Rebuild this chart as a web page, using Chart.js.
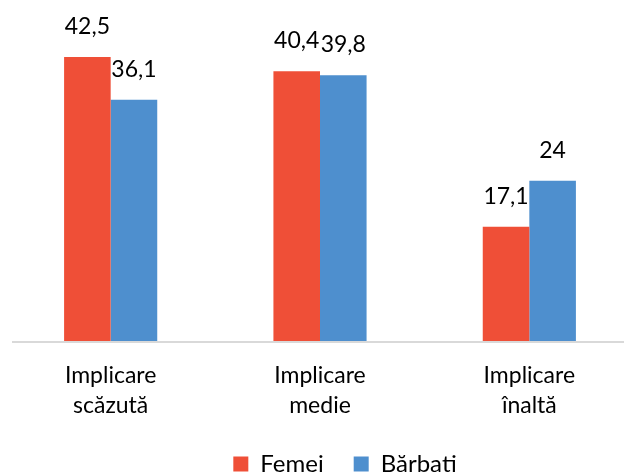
<!DOCTYPE html>
<html>
<head>
<meta charset="utf-8">
<script src="https://cdn.jsdelivr.net/npm/chart.js@4.4.0/dist/chart.umd.min.js"></script>
<style>
  html, body { margin: 0; padding: 0; background: #fff; overflow: hidden; }
  #wrap { width: 640px; height: 486px; position: relative; }
</style>
</head>
<body>
<div id="wrap"><canvas id="myChart"></canvas></div>
<script>
const categories = [['Implicare', 'scăzută'], ['Implicare', 'medie'], ['Implicare', 'înaltă']];
const femei = [42.5, 40.4, 17.1];
const barbati = [36.1, 39.8, 24];
const seriesNames = ['Femei', 'Bărbati'];

const ctx = document.getElementById('myChart');
Chart.defaults.font.family = 'Lato';
Chart.defaults.font.size = 23;
Chart.defaults.color = '#000';

// value labels above each bar, with comma decimals
const valueLabels = {
    id: 'valueLabels',
    afterDatasetsDraw(chart) {
        const c = chart.ctx;
        c.save();
        c.font = '23px Lato';
        c.fillStyle = '#000';
        c.textAlign = 'center';
        c.textBaseline = 'alphabetic';
        chart.data.datasets.forEach((ds, i) => {
            chart.getDatasetMeta(i).data.forEach((bar, j) => {
                c.fillText(String(ds.data[j]).replace('.', ','), bar.x, bar.y - 23);
            });
        });
        c.restore();
    }
};

// grey baseline like the original
const baseLine = {
    id: 'baseLine',
    beforeDatasetsDraw(chart) {
        const c = chart.ctx;
        const y = chart.scales.y.getPixelForValue(0);
        c.save();
        c.strokeStyle = '#d9d9d9';
        c.lineWidth = 2;
        c.beginPath();
        c.moveTo(12, y + 1);
        c.lineTo(624, y + 1);
        c.stroke();
        c.restore();
    }
};

// the legend sits a bit right of centre in the original
const legendShift = {
    id: 'legendShift',
    afterLayout(chart) {
        chart.legend.left += 25;
        chart.legend.right += 25;
    }
};

new Chart(ctx, {
    type: 'bar',
    data: {
        labels: categories,
        datasets: [
            {
                label: seriesNames[0],
                data: femei,
                backgroundColor: '#EF4F37',
                categoryPercentage: 0.445,
                barPercentage: 1.0
            },
            {
                label: seriesNames[1],
                data: barbati,
                backgroundColor: '#4E8FCE',
                categoryPercentage: 0.445,
                barPercentage: 1.0
            }
        ]
    },
    options: {
        responsive: true,
        maintainAspectRatio: false,
        animation: false,
        layout: { padding: { top: 7, left: 6, right: 6, bottom: 0 } },
        plugins: {
            legend: {
                position: 'bottom',
                labels: { boxWidth: 15, boxHeight: 15, padding: 30, color: '#000', font: { size: 24 } }
            },
            tooltip: { enabled: false }
        },
        scales: {
            x: {
                grid: { display: false, drawBorder: false },
                border: { display: false },
                ticks: { padding: 12, color: '#000', font: { size: 23, lineHeight: 1.3 } },
                afterFit(s) { s.height = 486 - 341 - s.chart.legend.height; }
            },
            y: {
                min: 0,
                max: 50,
                display: false
            }
        }
    },
    plugins: [baseLine, valueLabels, legendShift]
});
</script>
</body>
</html>
